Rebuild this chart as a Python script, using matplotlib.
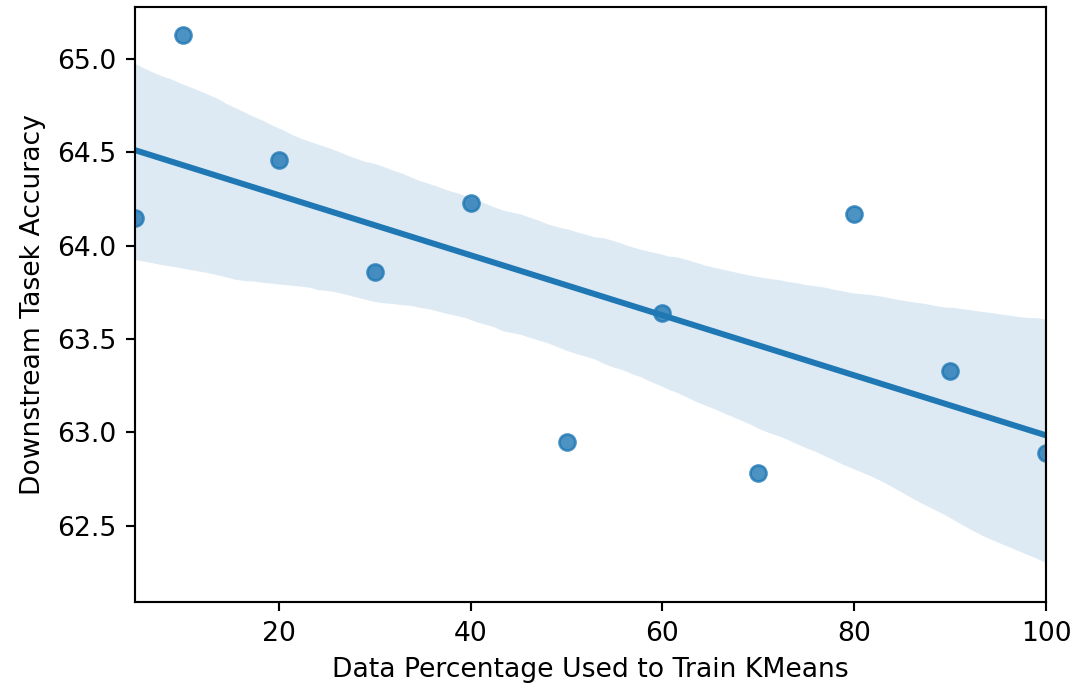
import matplotlib
matplotlib.use("Agg")
import matplotlib.pyplot as plt
import seaborn as sns
import pandas as pd

# values
data_percentage = [5, 10, 20, 30, 40, 50, 60, 70, 80, 90, 100]
accuracy = [64.15, 65.13, 64.46, 63.86, 64.23, 62.95, 63.64, 62.78, 64.17, 63.33, 62.89]

df = pd.DataFrame({"pct": data_percentage, "acc": accuracy})

fig, ax = plt.subplots(figsize=(1073 / 192, 690 / 192), dpi=192)
sns.regplot(x="pct", y="acc", data=df, ax=ax, seed=0)
ax.set_xlim(5, 100)
ax.set_ylim(62.09, 65.28)
ax.set_xlabel("Data Percentage Used to Train KMeans")
ax.set_ylabel("Downstream Tasek Accuracy")
fig.subplots_adjust(left=135 / 1073, right=1046 / 1073, top=1 - 7 / 690, bottom=1 - 602 / 690)
fig.savefig("out.png", dpi=192)
